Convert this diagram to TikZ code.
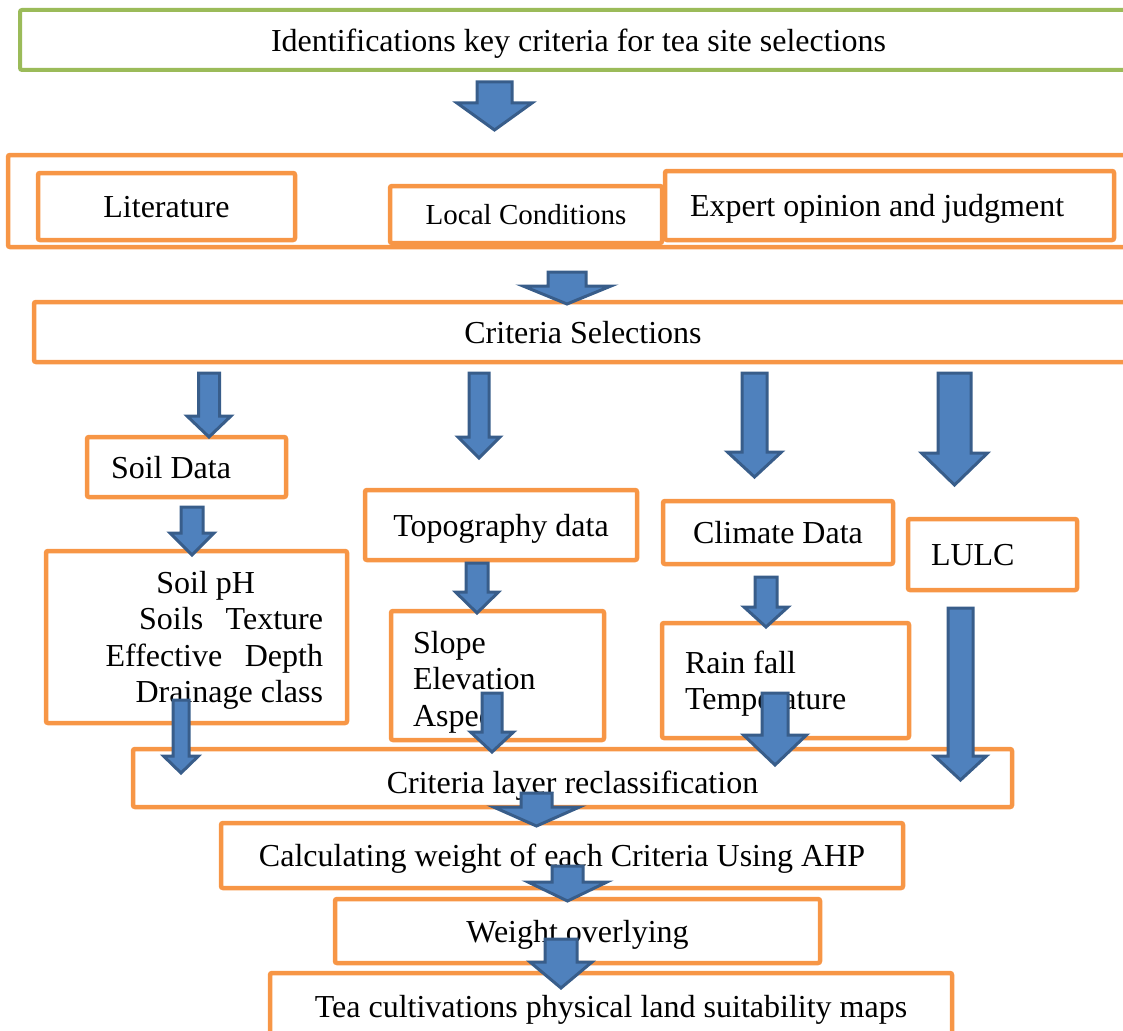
\documentclass[tikz,border=0pt]{standalone}
\usepackage{fontspec}
\setmainfont{Liberation Serif}
\usetikzlibrary{positioning}
\definecolor{boxorange}{HTML}{F79646}
\definecolor{boxgreen}{HTML}{9BBB59}
\definecolor{arrowfill}{HTML}{4F81BD}
\definecolor{arrowline}{HTML}{385D8A}
% block arrow: x, top, start of head, tip, half shaft, half head
\newcommand{\blockarrow}[6]{%
  \draw[blockarr] (#1-#5,#2) -- (#1+#5,#2) -- (#1+#5,#3) -- (#1+#6,#3)
    -- (#1,#4) -- (#1-#6,#3) -- (#1-#5,#3) -- cycle;}

\begin{document}
\begin{tikzpicture}
    [x=1pt, y=-1pt,
    box/.style={draw=boxorange, line width=4.5pt, rounded corners=2pt, inner sep=0pt, text depth=0pt,
        font=\fontsize{32}{36.5}\selectfont},
    listbox/.style={box, text height=22pt, text depth=#1},
    blockarr/.style={draw=arrowline, fill=arrowfill, line width=3pt, line join=miter}]
        \useasboundingbox (0,0) rectangle (1123,1030);
        % Key criteria
        \node[box, draw=boxgreen, line width=4pt, minimum width=1117pt, minimum height=60pt] (key) at (578.5,40)
            {Identifications key criteria for tea site selections};
        % Sources
        \node[box, minimum width=1132pt, minimum height=92pt] (sources) at (574,201) {};
        \node[box, minimum width=257pt, minimum height=67pt] (lit) at (166.5,206.5) {Literature};
        \node[box, minimum width=272pt, minimum height=57pt, font=\fontsize{29}{33}\selectfont] (local) at (526,214.5)
            {Local Conditions};
        \node[box, minimum width=449pt, minimum height=69pt, text width=399pt, align=flush left] (expert) at (889.5,205.5)
            {Expert opinion and judgment};
        \node[box, minimum width=1098pt, minimum height=60pt] (crit) at (583,332) {Criteria Selections};
        % Data
        \node[box, minimum width=199pt, minimum height=60pt, text width=151pt, align=flush left] (soil) at (186.5,467) {Soil Data};
        \node[box, minimum width=272pt, minimum height=70pt] (topo) at (501,525) {Topography data};
        \node[box, minimum width=230pt, minimum height=63pt] (climate) at (778,532.5) {Climate Data};
        \node[box, minimum width=169pt, minimum height=71pt, text width=123pt, align=flush left] (lulc) at (992.5,554.5) {LULC};
        % Layers
        \node[listbox=110pt, minimum width=301pt, minimum height=172pt, text width=253pt, align=flush right] (soilpar) at (196.5,637)
            {Soil pH\hbox to 68pt{}\\Soils\hspace{22.5pt}Texture\\Effective\hspace{22.5pt}Depth\\Drainage class};
        \node[listbox=67pt, minimum width=213pt, minimum height=129pt, text width=169pt, align=flush left] (topopar) at (497.5,675.5)
            {Slope\\Elevation\\Aspect};
        \node[listbox=37pt, minimum width=247pt, minimum height=115pt, text width=201pt, align=flush left] (climpar) at (785.5,680.5)
            {Rain fall\\Temperature};
        % Analysis
        \node[box, text height=30pt, minimum width=879pt, minimum height=58pt] (reclass) at (572.5,778)
            {Criteria layer reclassification};
        \node[box, minimum width=682pt, minimum height=65pt] (ahp) at (562,855.5)
            {Calculating weight of each Criteria Using AHP};
        \node[box, minimum width=485pt, minimum height=64pt] (overlay) at (577.5,931) {Weight overlying};
        \node[box, minimum width=682pt, minimum height=67pt] (suit) at (611,1006.5)
            {Tea cultivations physical land suitability maps};

        % Arrows
        \blockarrow{494.5}{82}{103}{130}{17.5}{37.5}
        \blockarrow{567}{272}{286}{304}{19}{44}
        \blockarrow{209}{373}{416}{437}{10.5}{22}
        \blockarrow{479}{373}{437}{458}{10}{21}
        \blockarrow{754.5}{373}{452}{477}{12.5}{27}
        \blockarrow{954.5}{373}{453}{485}{16.5}{33}
        \blockarrow{192}{507}{533}{555}{11}{22}
        \blockarrow{477}{563}{592}{613}{11}{21.5}
        \blockarrow{766}{577}{607}{627}{11}{22}
        \blockarrow{181}{700}{756}{773}{8}{17.5}
        \blockarrow{492}{693}{732}{752}{10}{21.5}
        \blockarrow{775}{693}{735}{765}{13}{31.5}
        \blockarrow{960.5}{608}{756}{780}{12.5}{26}
        \blockarrow{536.5}{793}{807}{826}{15.5}{43}
        \blockarrow{567.5}{866}{882}{901}{15.5}{39.5}
        \blockarrow{561}{939}{962}{988}{16}{31}
\end{tikzpicture}
\end{document}
